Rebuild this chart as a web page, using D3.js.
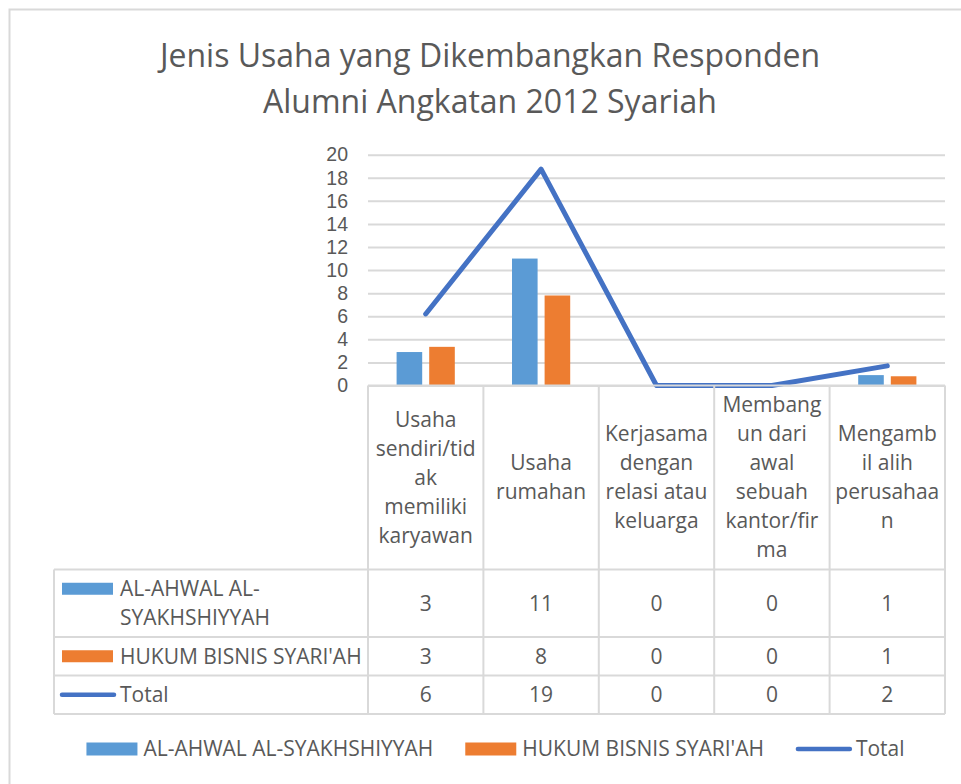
<!DOCTYPE html>
<html>
<head>
<meta charset="utf-8">
<script src="https://cdn.jsdelivr.net/npm/d3@7"></script>
<style>
	body { margin: 0; background: #fff; }
	svg text { font-family: "Open Sans", sans-serif; fill: #595959; }
	svg .y-axis text { font-family: "Liberation Sans", Arial, sans-serif; }
</style>
</head>
<body>
<svg id="chart" width="961" height="784"></svg>
<script>
// data (bars are a bit off the rounded table values)
const categories = ["Usaha sendiri/tidak memiliki karyawan", "Usaha rumahan", "Kerjasama dengan relasi atau keluarga", "Membangun dari awal sebuah kantor/firma", "Mengambil alih perusahaan"];
const categoryLines = [
	["Usaha", "sendiri/tid", "ak", "memiliki", "karyawan"],
	["Usaha", "rumahan"],
	["Kerjasama", "dengan", "relasi atau", "keluarga"],
	["Membang", "un dari", "awal", "sebuah", "kantor/fir", "ma"],
	["Mengamb", "il alih", "perusahaa", "n"]
];
const seriesNames = ["AL-AHWAL AL-SYAKHSHIYYAH", "HUKUM BISNIS SYARI'AH", "Total"];
const seriesLines = [["AL-AHWAL AL-", "SYAKHSHIYYAH"], ["HUKUM BISNIS SYARI'AH"], ["Total"]];
const ahwalValues = [2.9, 11, 0, 0, 0.9];
const hukumValues = [3.35, 7.8, 0, 0, 0.8];
const totalValues = [6.2, 18.75, 0, 0, 1.7];
const yTicks = [0, 2, 4, 6, 8, 10, 12, 14, 16, 18, 20];
const titleLines = ["Jenis Usaha yang Dikembangkan Responden", "Alumni Angkatan 2012 Syariah"];

const colors = ["#5B9BD5", "#ED7D31", "#4472C4"];
const gridColor = "#d9d9d9";
const fontSize = 21;
const lineH = 29;

const svg = d3.select('#chart');

// outer chart border (right/bottom edges fall outside the shot)
svg.append('rect')
	.attr('x', 9.5).attr('y', 9.5)
	.attr('width', 1000).attr('height', 1000)
	.attr('fill', 'none')
	.attr('stroke', gridColor)
	.attr('stroke-width', 2);

svg.append('g').selectAll('text')
	.data(titleLines)
	.join('text')
		.attr('x', 490)
		.attr('y', (d, i) => 67 + i * 46)
		.attr('text-anchor', 'middle')
		.attr('font-size', 32)
		.text(d => d);

const x0 = d3.scaleBand()
	.domain(categories)
	.range([368, 945]);

const x1 = d3.scaleBand()
	.domain([0, 1])
	.range([0, x0.bandwidth()])
	.paddingInner(0.215)
	.paddingOuter(0.877);

const y = d3.scaleLinear()
	.domain([0, 20])
	.range([385.5, 154.7]);

// y axis with grid lines
const yAxis = svg.append('g')
	.attr('class', 'y-axis')
	.attr('transform', 'translate(368,0)')
	.call(d3.axisLeft(y).tickValues(yTicks).tickSize(-(945 - 368)).tickPadding(20));
yAxis.select('.domain').remove();
yAxis.attr('font-family', null).attr('font-size', 19.5);
yAxis.selectAll('line').attr('stroke', gridColor).attr('stroke-width', 2);

// bars
const barSeries = [ahwalValues, hukumValues];
svg.append('g').selectAll('g')
	.data(barSeries)
	.join('g')
		.attr('fill', (d, i) => colors[i])
	.each(function(values, si) {
		d3.select(this).selectAll('rect')
			.data(values.map((v, ci) => ({ cat: categories[ci], v })))
			.join('rect')
				.attr('x', d => x0(d.cat) + x1(si))
				.attr('y', d => y(d.v))
				.attr('width', x1.bandwidth())
				.attr('height', d => y(0) - y(d.v));
	});

// total line
const line = d3.line()
	.x((d, i) => x0(categories[i]) + x0.bandwidth() / 2)
	.y(d => y(d));

svg.append('path')
	.datum(totalValues)
	.attr('d', line)
	.attr('fill', 'none')
	.attr('stroke', colors[2])
	.attr('stroke-width', 5)
	.attr('stroke-linecap', 'round')
	.attr('stroke-linejoin', 'round');

// data table under the axis
const headerTop = y(0);
const headerH = d3.max(categoryLines, l => l.length) * lineH + 10;
const rowHeights = seriesLines.map(l => l.length * lineH + 9.5);
const rowTops = [];
rowHeights.reduce((acc, h) => { rowTops.push(acc); return acc + h; }, headerTop + headerH);
const tableBottom = rowTops[2] + rowHeights[2];
const tableLeft = 54;

const table = svg.append('g')
	.attr('stroke', gridColor)
	.attr('stroke-width', 2);

// horizontal rules
table.selectAll('line.h')
	.data(rowTops.concat([tableBottom]))
	.join('line')
		.attr('class', 'h')
		.attr('x1', tableLeft).attr('x2', 945)
		.attr('y1', d => d).attr('y2', d => d);
table.append('line')
	.attr('x1', 368).attr('x2', 945)
	.attr('y1', headerTop).attr('y2', headerTop);

// vertical rules
table.selectAll('line.v')
	.data(categories.map(c => x0(c)).concat([945]))
	.join('line')
		.attr('class', 'v')
		.attr('x1', d => d).attr('x2', d => d)
		.attr('y1', headerTop).attr('y2', tableBottom);
table.append('line')
	.attr('x1', tableLeft).attr('x2', tableLeft)
	.attr('y1', rowTops[0]).attr('y2', tableBottom);

// header cells
svg.append('g').selectAll('text')
	.data(categoryLines)
	.join('text')
		.attr('text-anchor', 'middle')
		.attr('font-size', fontSize)
		.attr('x', (d, i) => x0(categories[i]) + x0.bandwidth() / 2)
		.attr('y', d => headerTop + headerH / 2 - (d.length - 1) * lineH / 2)
	.selectAll('tspan')
	.data(d => d)
	.join('tspan')
		.attr('x', function() { return this.parentNode.getAttribute('x'); })
		.attr('dy', (d, i) => i === 0 ? '0.35em' : lineH)
		.text(d => d);

// row labels with legend keys
const rows = svg.append('g').selectAll('g')
	.data(seriesLines)
	.join('g')
		.attr('transform', (d, i) => `translate(0,${rowTops[i] + rowHeights[i] / 2})`);

rows.append('text')
	.attr('font-size', fontSize)
	.attr('y', d => -(d.length - 1) * lineH / 2)
	.selectAll('tspan')
	.data(d => d)
	.join('tspan')
		.attr('x', 120)
		.attr('dy', (d, i) => i === 0 ? '0.35em' : lineH)
		.text(d => d);

rows.each(function(d, i) {
	const g = d3.select(this);
	const keyY = -(d.length - 1) * lineH / 2;
	if (i < 2) {
		g.append('rect')
			.attr('x', 62).attr('y', keyY - 6)
			.attr('width', 51).attr('height', 12)
			.attr('fill', colors[i]);
	} else {
		g.append('line')
			.attr('x1', 62).attr('x2', 114)
			.attr('y1', keyY).attr('y2', keyY)
			.attr('stroke', colors[2])
			.attr('stroke-width', 4.5)
			.attr('stroke-linecap', 'round');
	}
});

// table values
const tableValues = [ahwalValues, hukumValues, totalValues];
rows.each(function(d, i) {
	d3.select(this).selectAll('text.val')
		.data(tableValues[i])
		.join('text')
			.attr('class', 'val')
			.attr('font-size', fontSize)
			.attr('text-anchor', 'middle')
			.attr('x', (v, ci) => x0(categories[ci]) + x0.bandwidth() / 2)
			.attr('dy', '0.35em')
			.text(v => d3.format('.0f')(v));
});

// bottom legend
const legend = svg.append('g');
const items = legend.selectAll('g')
	.data(seriesNames)
	.join('g');
items.append('text')
	.attr('font-size', fontSize)
	.attr('dy', '0.35em')
	.text(d => d);
let cursor = 0;
items.each(function(d, i) {
	const g = d3.select(this);
	const keyW = i < 2 ? 51 : 56;
	if (i < 2) {
		g.append('rect')
			.attr('x', 0).attr('y', -6.5)
			.attr('width', keyW).attr('height', 13)
			.attr('fill', colors[i]);
	} else {
		g.append('line')
			.attr('x1', 2).attr('x2', keyW - 2)
			.attr('stroke', colors[2])
			.attr('stroke-width', 4.5)
			.attr('stroke-linecap', 'round');
	}
	const tx = keyW + (i < 2 ? 6 : 4);
	const t = g.select('text').attr('x', tx);
	g.attr('transform', `translate(${cursor},749)`);
	cursor += tx + t.node().getComputedTextLength() + 32;
});
const legendW = cursor - 32;
legend.attr('transform', `translate(${495.5 - legendW / 2},0)`);
</script>
</body>
</html>
